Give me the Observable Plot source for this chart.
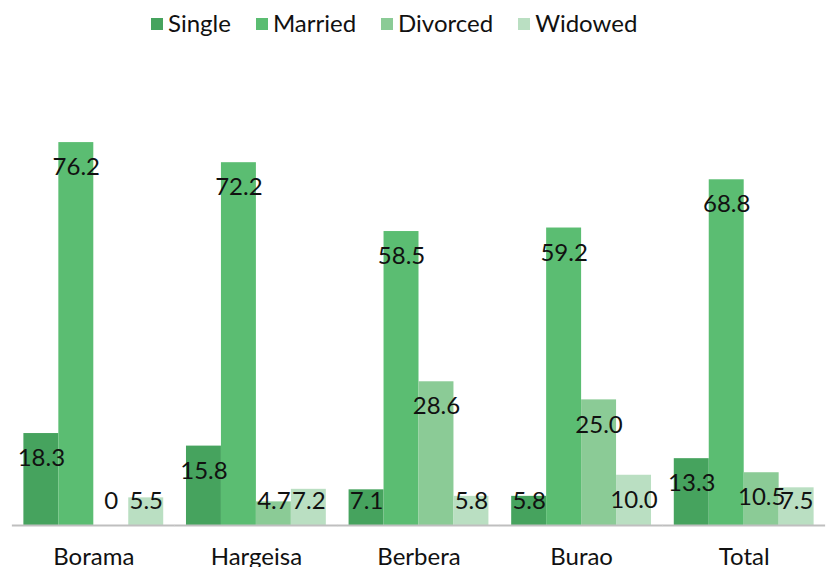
<!DOCTYPE html>
<html>
<head>
<meta charset="utf-8">
<script src="https://cdn.jsdelivr.net/npm/d3@7"></script>
<script src="https://cdn.jsdelivr.net/npm/@observablehq/plot@0.6"></script>
<style>
  html, body { margin: 0; padding: 0; background: #fff; }
  body { width: 830px; height: 567px; overflow: hidden; font-family: Lato, sans-serif; }
  #legend { height: 48px; display: flex; align-items: flex-start; padding-left: 151px; box-sizing: border-box; padding-top: 9px; }
  .item { display: flex; align-items: center; margin-right: 25px; font-size: 24px; color: #111; line-height: 28px; }
  .sw { width: 12px; height: 12px; margin-right: 5px; margin-top: 2px; }
</style>
</head>
<body>
<div id="legend"></div>
<div id="chart"></div>
<script>
const cities = ["Borama", "Hargeisa", "Berbera", "Burao", "Total"];
const statuses = ["Single", "Married", "Divorced", "Widowed"];
const single   = [18.3, 15.8, 7.1, 5.8, 13.3];
const married  = [76.2, 72.2, 58.5, 59.2, 68.8];
const divorced = [0, 4.7, 28.6, 25.0, 10.5];
const widowed  = [5.5, 7.2, 5.8, 10.0, 7.5];
const colors = ["#46a35e", "#5bbd72", "#8bcb96", "#badfc2"];

const series = [single, married, divorced, widowed];
const rows = [];
cities.forEach((c, i) => statuses.forEach((s, j) => rows.push({city: c, status: s, value: series[j][i]})));

const legend = document.getElementById("legend");
statuses.forEach((s, j) => {
  const it = document.createElement("div");
  it.className = "item";
  it.innerHTML = `<span class="sw" style="background:${colors[j]}"></span><span>${s}</span>`;
  legend.appendChild(it);
});

const plot = Plot.plot({
  width: 830,
  height: 519,
  marginLeft: 12,
  marginRight: 5,
  marginTop: 75,
  marginBottom: 42,
  style: {fontFamily: "Lato, sans-serif", fontSize: "24px", color: "#111", background: "#fff"},
  facet: {data: rows, x: "city"},
  fx: {domain: cities, paddingInner: 0.14, paddingOuter: 0.07, round: false, axis: "bottom", tickSize: 0, tickPadding: 22, label: null},
  x: {domain: statuses, padding: 0, round: false, axis: null},
  y: {domain: [0, 80], axis: null},
  color: {domain: statuses, range: colors},
  marks: [
    Plot.barY(rows, {x: "status", y: "value", fill: "status", inset: 0}),
    Plot.ruleY([0], {stroke: "#bfbfbf", strokeWidth: 2, insetLeft: -11.5, insetRight: -11.5}),
    Plot.text(rows, {x: "status", y: d => Math.max(d.value, 9.7), dy: 25, text: d => d.value === 0 ? "0" : d.value.toFixed(1), fill: "#111", fontSize: 24})
  ]
});
document.getElementById("chart").appendChild(plot);
</script>
</body>
</html>
